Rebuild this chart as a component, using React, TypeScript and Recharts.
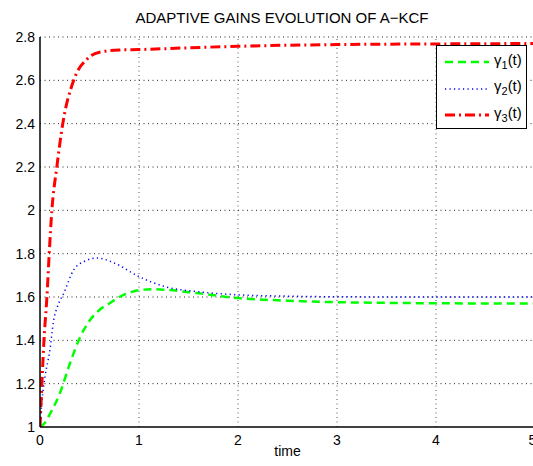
import React from "react"
import { LineChart, Line, XAxis, YAxis, ReferenceLine } from "recharts"

// time samples and gains
const t1 = [0, 0.05, 0.1, 0.2, 0.3, 0.4, 0.5, 0.6, 0.7, 0.8, 0.9, 1, 1.15, 1.3, 1.55, 2, 2.5, 3, 3.5, 4, 5]
const gamma1 = [1, 1.02, 1.06, 1.155, 1.29, 1.41, 1.49, 1.54, 1.57, 1.6, 1.62, 1.632, 1.636, 1.632, 1.62, 1.595, 1.583, 1.576, 1.573, 1.571, 1.57]

const t2 = [0, 0.02, 0.05, 0.1, 0.137, 0.18, 0.24, 0.34, 0.45, 0.58, 0.75, 1, 1.27, 1.61, 2, 2.5, 3, 4, 5]
const gamma2 = [1, 1.12, 1.23, 1.355, 1.49, 1.56, 1.617, 1.725, 1.765, 1.78, 1.757, 1.694, 1.647, 1.624, 1.61, 1.604, 1.601, 1.6, 1.6]

const t3 = [0, 0.024, 0.04, 0.07, 0.093, 0.12, 0.17, 0.23, 0.34, 0.48, 0.6, 0.8, 1, 1.5, 2, 2.5, 3, 4, 5]
const gamma3 = [1, 1.25, 1.4, 1.6, 1.8, 2.0, 2.2, 2.4, 2.6, 2.7, 2.73, 2.74, 2.742, 2.75, 2.757, 2.762, 2.765, 2.768, 2.77]

const xTicks = [0, 1, 2, 3, 4, 5]
const yTicks = [1, 1.2, 1.4, 1.6, 1.8, 2, 2.2, 2.4, 2.6, 2.8]

const toPoints = (ts: number[], ys: number[]) => ts.map((t, i) => ({ t, v: ys[i] }))

const series = [
  { key: "g1", sub: "1", data: toPoints(t1, gamma1), color: "#00ff00", width: 2.5, dash: "8 5" },
  { key: "g2", sub: "2", data: toPoints(t2, gamma2), color: "#0000ff", width: 1.5, dash: "1.2 3.3" },
  { key: "g3", sub: "3", data: toPoints(t3, gamma3), color: "#ff0000", width: 3, dash: "10 4 2 4" },
]

const font = '"Liberation Sans", Arial, Helvetica, sans-serif'

function LegendBox() {
  return (
    <div
      style={{
        position: "absolute",
        left: 436,
        top: 45,
        background: "#fff",
        border: "1px solid #000",
        width: 91,
        height: 84,
        boxSizing: "border-box",
        paddingTop: 3,
        fontFamily: font,
      }}
    >
      {series.map((s) => (
        <div key={s.key} style={{ display: "flex", alignItems: "center", height: 26.5 }}>
          <svg width={57} height={10} style={{ display: "block" }}>
            <line x1={8} y1={5} x2={52} y2={5} stroke={s.color} strokeWidth={s.width} strokeDasharray={s.dash} />
          </svg>
          <span style={{ fontSize: 15, color: "#000", lineHeight: "15px" }}>
            γ<sub style={{ fontSize: 11 }}>{s.sub}</sub>(t)
          </span>
        </div>
      ))}
    </div>
  )
}

export default function App() {
  return (
    <div style={{ position: "absolute", left: 0, top: 0, width: 533, height: 466, overflow: "hidden", background: "#fff" }}>
      <div
        style={{
          position: "absolute",
          top: 9,
          left: 0,
          width: 564,
          textAlign: "center",
          fontFamily: font,
          fontSize: 15,
          color: "#000",
        }}
      >
        ADAPTIVE GAINS EVOLUTION OF A−KCF
      </div>
      <LineChart width={536} height={466} margin={{ top: 37, right: 1, bottom: 0, left: 0 }} style={{ fontFamily: font }}>
        <XAxis
          type="number"
          dataKey="t"
          domain={[0, 5]}
          ticks={xTicks}
          allowDataOverflow
          height={39}
          tickLine={false}
          axisLine={{ stroke: "#000", strokeWidth: 1.5 }}
          tick={{ fill: "#000", fontSize: 14 }}
          label={{ value: "time", position: "insideBottom", offset: 10, fill: "#000", fontSize: 14 }}
        />
        <XAxis xAxisId="top" orientation="top" type="number" domain={[0, 5]} height={0} tick={false} tickLine={false} axisLine={{ stroke: "#000", strokeWidth: 1.5 }} />
        <YAxis
          type="number"
          domain={[1, 2.8]}
          ticks={yTicks}
          allowDataOverflow
          width={40}
          tickLine={false}
          tickSize={3}
          tickMargin={2}
          axisLine={{ stroke: "#000", strokeWidth: 1.5 }}
          tick={{ fill: "#000", fontSize: 14 }}
        />
        <YAxis yAxisId="right" orientation="right" domain={[1, 2.8]} width={0} tick={false} tickLine={false} axisLine={{ stroke: "#000", strokeWidth: 1.5 }} />
        {xTicks.slice(1).map((t) => (
          <ReferenceLine key={"gx" + t} x={t} stroke="#555" strokeDasharray="1 3.5" strokeWidth={1} />
        ))}
        {yTicks.slice(1).map((v) => (
          <ReferenceLine key={"gy" + v} y={v} stroke="#222" strokeDasharray="1 3.5" strokeWidth={1} />
        ))}
        {series.map((s) => (
          <Line
            key={s.key}
            data={s.data}
            dataKey="v"
            name={s.key}
            type="monotone"
            stroke={s.color}
            strokeWidth={s.width}
            strokeDasharray={s.dash}
            dot={false}
            isAnimationActive={false}
          />
        ))}
      </LineChart>
      <LegendBox />
    </div>
  )
}
